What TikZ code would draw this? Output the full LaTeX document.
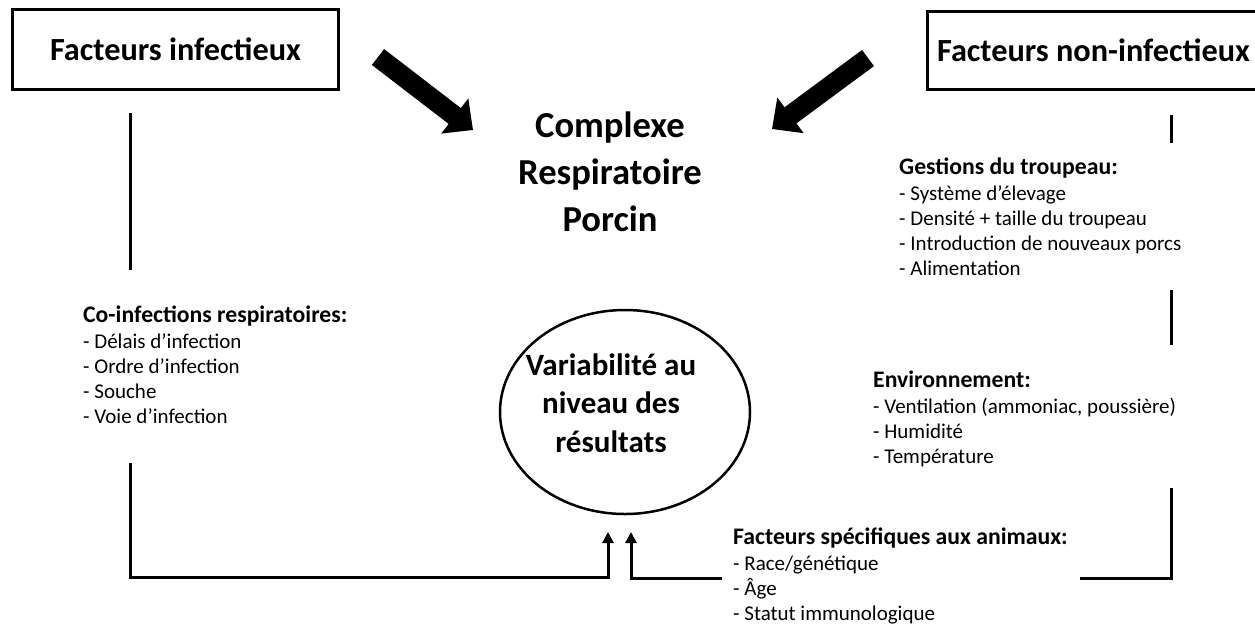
\documentclass[tikz,border=0pt]{standalone}
\usepackage{fontspec}
\setmainfont{Carlito}
\usetikzlibrary{arrows.meta,shapes.geometric}
\newcommand\mylist[2]{\vtop{\hbox{\fontsize{23.7}{25}\selectfont\bfseries #1}\vskip1.5pt #2}}
\newcommand\itm[1]{\hbox{- #1}}
\begin{document}
\begin{tikzpicture}[x=1pt,y=-1pt,
  conn/.style={line width=3pt},
  bigarrow/.style={line width=20pt,-{Triangle[width=43pt,length=23pt]}},
  smallarrow/.style={line width=3pt,-{Triangle[width=11pt,length=11pt]}},
  titlebox/.style={draw,line width=3pt,rectangle,inner sep=0pt,font=\fontsize{32.3}{38}\selectfont\bfseries},
  listtext/.style={anchor=base west,inner sep=0pt,font=\fontsize{21}{25}\selectfont},
  bigtext/.style={anchor=base,inner sep=0pt,align=center}]
\useasboundingbox (0,0) rectangle (1255,625);

\node[titlebox,minimum width=326pt,minimum height=80pt] (inf) at (175.5,49.5) {Facteurs infectieux};
\node[titlebox,minimum width=333pt,minimum height=78pt] (noninf) at (1093.5,50.5) {Facteurs non-infectieux};

\node[bigtext,font=\fontsize{36.6}{47}\selectfont\bfseries] (crp) at (610,137)
  {\begin{tabular}[t]{@{}c@{}}Complexe\\Respiratoire\\Porcin\end{tabular}};

\node[draw,ellipse,line width=2.5pt,minimum width=250pt,minimum height=204pt,inner sep=0pt] (var) at (625,412) {};
\node[bigtext,font=\fontsize{31}{38.5}\selectfont\bfseries] (vartext) at (611,375)
  {\begin{tabular}[t]{@{}c@{}}Variabilité au\\niveau des\\résultats\end{tabular}};

\node[listtext] (coinf) at (83,322) {\mylist{Co-infections respiratoires:}{\itm{Délais d’infection}\itm{Ordre d’infection}\itm{Souche}\itm{Voie d’infection}}};
\node[listtext] (gest) at (899,174) {\mylist{Gestions du troupeau:}{\itm{Système d’élevage}\itm{Densité + taille du troupeau}\itm{Introduction de nouveaux porcs}\itm{Alimentation}}};
\node[listtext] (env) at (873,387) {\mylist{Environnement:}{\itm{Ventilation (ammoniac, poussière)}\itm{Humidité}\itm{Température}}};
\node[listtext] (spec) at (733,544) {\mylist{Facteurs spécifiques aux animaux:}{\itm{Race/génétique}\itm{Âge}\itm{Statut immunologique}}};

% big arrows
\coordinate (a1s) at (378,57); \coordinate (a1e) at (473,130);
\coordinate (a2s) at (868,58); \coordinate (a2e) at (772,129);
\draw[bigarrow] (a1s) -- (a1e);
\draw[bigarrow] (a2s) -- (a2e);

% left connectors
\coordinate (l1t) at (130,113); \coordinate (l1b) at (130,270);
\coordinate (l2t) at (130,463); \coordinate (lc) at (130,577);
\coordinate (lb) at (608,577); \coordinate (lt) at (608,532);
\draw[conn] (l1t) -- (l1b);
\draw[smallarrow] (l2t) -- (lc) -- (lb) -- (lt);

% right connectors
\coordinate (r1t) at (1171,115); \coordinate (r1b) at (1171,143);
\coordinate (r2t) at (1171,290); \coordinate (r2b) at (1171,345);
\coordinate (r3t) at (1171,488); \coordinate (rc) at (1171,578); \coordinate (re) at (1080,578);
\coordinate (ms) at (722,578); \coordinate (mc) at (631,578); \coordinate (mt) at (631,532);
\draw[conn] (r1t) -- (r1b);
\draw[conn] (r2t) -- (r2b);
\draw[conn] (r3t) -- (rc) -- (re);
\draw[smallarrow] (ms) -- (mc) -- (mt);
\end{tikzpicture}
\end{document}
